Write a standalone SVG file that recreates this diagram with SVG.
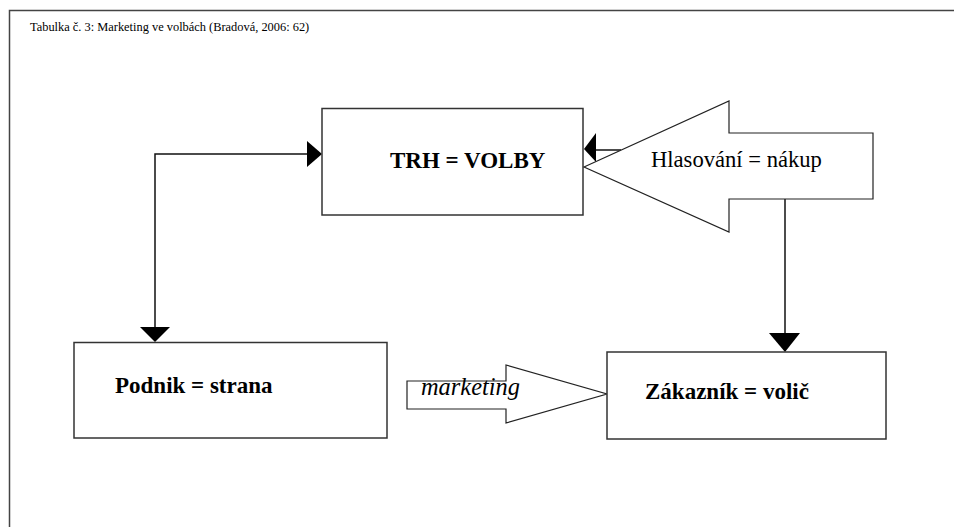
<svg xmlns="http://www.w3.org/2000/svg" width="954" height="527" viewBox="0 0 954 527">
<style>
.box{fill:#fff;stroke:#333;stroke-width:1.5}
.shape{fill:#fff;stroke:#222;stroke-width:1.2}
.line{fill:none;stroke:#111;stroke-width:1.5}
.head{fill:#000;stroke:none}
.lbl{font-family:"Liberation Serif","Times New Roman",serif;fill:#000}
.b{font-weight:bold;font-size:23px}
</style>
<rect width="954" height="527" fill="#fff"/>
<g id="frame">
<path d="M9.5,527 V10.5 H954" fill="none" stroke="#444" stroke-width="1.5"/>
<text class="lbl" x="30" y="31" font-size="12.4">Tabulka č. 3: Marketing ve volbách (Bradová, 2006: 62)</text>
</g>
<g id="connectors">
<path class="line" d="M155,330 V154 H309"/>
<path class="head" d="M307,141 L322,154 L307,167 Z"/>
<path class="head" d="M140,327 L170,327 L155,342 Z"/>
<path class="line" d="M785,199 V336"/>
<path class="head" d="M769,333 L800,333 L785,352 Z"/>
<path class="line" d="M594,150 H621"/>
<path class="head" d="M584,149 L596,133 L596,162 Z"/>
</g>
<g id="trh">
<rect class="box" x="322" y="108.5" width="261" height="106.5"/>
<text class="lbl b" x="390" y="168">TRH = VOLBY</text>
</g>
<g id="hlasovani">
<path class="shape" d="M584,167 L729,101 L729,133 L873,133 L873,199 L729,199 L729,232 Z"/>
<text class="lbl" x="651" y="167" font-size="22.6">Hlasování = nákup</text>
</g>
<g id="podnik">
<rect class="box" x="74" y="342.5" width="313" height="95.5"/>
<text class="lbl b" x="115" y="393">Podnik = strana</text>
</g>
<g id="marketing">
<path class="shape" d="M407,381 L506,381 L506,365 L607,394 L506,423 L506,409 L407,409 Z"/>
<text class="lbl" x="421" y="395" font-size="24.4" font-style="italic">marketing</text>
</g>
<g id="zakaznik">
<rect class="box" x="607" y="352" width="279" height="87"/>
<text class="lbl b" x="645" y="399">Zákazník = volič</text>
</g>
</svg>
